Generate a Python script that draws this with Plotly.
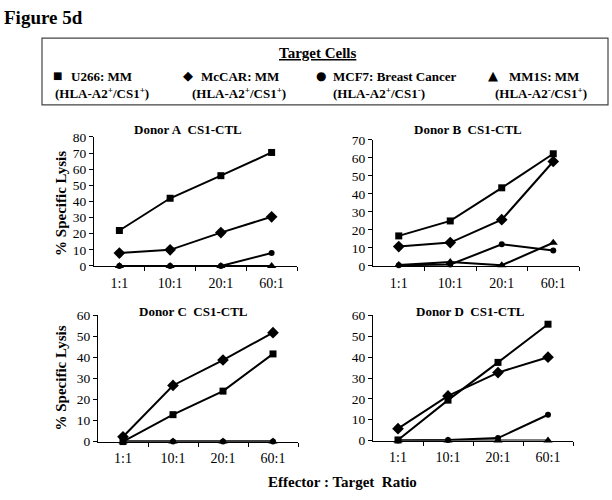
import plotly.graph_objects as go

categories = ["1:1", "10:1", "20:1", "60:1"]

# Donor A
a_u266 = [22, 42, 56, 70.4]
a_mccar = [8, 10, 20.7, 30.5]
a_mcf7 = [0, 0, 0, 8]
a_mm1s = [0, 0, 0, 0]
# Donor B
b_u266 = [16.7, 25, 43.4, 62.3]
b_mccar = [10.8, 13, 25.7, 58]
b_mcf7 = [0.4, 0.8, 12, 8.6]
b_mm1s = [0.5, 2.2, 0.4, 12.9]
# Donor C
c_u266 = [0, 12.8, 24, 41.7]
c_mccar = [2.3, 26.7, 38.8, 51.8]
c_mcf7 = [0, 0, 0, 0]
c_mm1s = [0, 0, 0, 0]
# Donor D
d_u266 = [0.3, 19.4, 37.5, 55.8]
d_mccar = [5.7, 21.4, 32.6, 40]
d_mcf7 = [0, 0.3, 1.2, 12.4]
d_mm1s = [0, 0, 0, 0]

y_max = {"A": 80, "B": 70, "C": 60, "D": 60}
panel_titles = {"A": "Donor A\u00a0\u00a0CS1-CTL", "B": "Donor B\u00a0\u00a0CS1-CTL",
                "C": "Donor C\u00a0\u00a0CS1-CTL", "D": "Donor D\u00a0\u00a0CS1-CTL"}

panels = {
    "A": [a_u266, a_mccar, a_mcf7, a_mm1s],
    "B": [b_u266, b_mccar, b_mcf7, b_mm1s],
    "C": [c_u266, c_mccar, c_mcf7, c_mm1s],
    "D": [d_u266, d_mccar, d_mcf7, d_mm1s],
}

W, H = 612, 500
FONT = "Liberation Serif"

# plot areas in pixels: x0, x1, ytop, ybottom
areas = {
    "A": (94, 297, 134, 267),
    "B": (373, 579, 137, 267),
    "C": (98, 298, 318, 448),
    "D": (373, 573, 318, 447),
}
title_pos = {"A": (188, 126), "B": (468, 126), "C": (193, 314), "D": (470, 314)}

symbols = ["square", "diamond", "circle", "triangle-up"]
sizes = [7, 9, 6, 8]

fig = go.Figure()
xs = list(range(len(categories)))

for i, key in enumerate(["A", "B", "C", "D"]):
    axn = "" if i == 0 else str(i + 1)
    for series, sym, sz in zip(panels[key], symbols, sizes):
        fig.add_trace(go.Scatter(
            x=xs, y=series, mode="lines+markers",
            xaxis="x" + axn, yaxis="y" + axn,
            line=dict(color="black", width=2),
            marker=dict(symbol=sym, size=sz, color="black"),
            cliponaxis=False, showlegend=False, hoverinfo="skip"))
    x0, x1, yt, yb = areas[key]
    xa = dict(domain=[x0 / W, x1 / W], range=[-0.5, 3.5],
              anchor="y" + axn, showgrid=False, zeroline=False,
              showline=True, linecolor="black", linewidth=1,
              tickmode="array", tickvals=xs, ticktext=categories,
              ticks="", ticklabelstandoff=4,
              tickfont=dict(family=FONT, size=14, color="black"),
              minor=dict(tickmode="array", tickvals=[0.5, 1.5, 2.5, 3.5],
                         ticks="outside", ticklen=4, tickcolor="black"))
    ya = dict(domain=[1 - yb / H, 1 - yt / H], range=[0, y_max[key]],
              anchor="x" + axn, showgrid=False, zeroline=False,
              showline=True, linecolor="black", linewidth=1,
              tickmode="linear", tick0=0, dtick=10,
              ticks="outside", ticklen=4, tickcolor="black",
              tickfont=dict(family=FONT, size=13.5, color="black"))
    fig.layout["xaxis" + axn] = xa
    fig.layout["yaxis" + axn] = ya
    tx, ty = title_pos[key]
    fig.add_annotation(text="<b>" + panel_titles[key] + "</b>",
                       x=tx / W, y=1 - ty / H,
                       xref="paper", yref="paper", showarrow=False,
                       font=dict(family=FONT, size=13, color="black"),
                       xanchor="center", yanchor="middle")

# Figure label
fig.add_annotation(text="<b>Figure 5d</b>", x=2 / W, y=1 - 11 / H,
                   xref="paper", yref="paper", showarrow=False,
                   xanchor="left", yanchor="middle",
                   font=dict(family=FONT, size=19, color="black"))

# legend box
fig.add_shape(type="rect", xref="paper", yref="paper",
              x0=42 / W, x1=608 / W, y0=1 - 101 / H, y1=1 - 32 / H,
              line=dict(color="#444444", width=1.2))
fig.add_annotation(text="<b><u>Target Cells</u></b>", x=318 / W, y=1 - 47 / H,
                   xref="paper", yref="paper", showarrow=False,
                   xanchor="center", yanchor="middle",
                   font=dict(family=FONT, size=15, color="black"))

legend_glyphs = ["\u25a0", "\u25c6", "\u25cf", "\u25b2"]
glyph_sizes = [10, 13, 12, 13]
glyph_x = [57, 188, 321, 493]
legend_names = ["U266: MM", "McCAR: MM", "MCF7: Breast Cancer", "MM1S: MM"]
legend_sub = ["(HLA-A2<sup>+</sup>/CS1<sup>+</sup>)", "(HLA-A2<sup>+</sup>/CS1<sup>+</sup>)",
              "(HLA-A2<sup>+</sup>/CS1<sup>-</sup>)", "(HLA-A2<sup>-</sup>/CS1<sup>+</sup>)"]
name_x = [69, 199, 331, 507]
sub_x = [53, 190, 331, 493]
for g, gs, gx, nm, nx, sb, sx in zip(legend_glyphs, glyph_sizes, glyph_x,
                                      legend_names, name_x, legend_sub, sub_x):
    fig.add_annotation(text=g, x=gx / W, y=1 - 71 / H, xref="paper", yref="paper",
                       showarrow=False, xanchor="center", yanchor="middle",
                       font=dict(family="DejaVu Sans", size=gs, color="black"))
    fig.add_annotation(text="<b>" + nm + "</b>", x=nx / W, y=1 - 72 / H,
                       xref="paper", yref="paper", showarrow=False,
                       xanchor="left", yanchor="middle",
                       font=dict(family=FONT, size=13, color="black"))
    fig.add_annotation(text="<b>" + sb + "</b>", x=sx / W, y=1 - 89 / H,
                       xref="paper", yref="paper", showarrow=False,
                       xanchor="left", yanchor="middle",
                       font=dict(family=FONT, size=13, color="black"))

# axis titles
for yc in [203, 383]:
    fig.add_annotation(text="<b>% Specific Lysis</b>", x=61 / W, y=1 - yc / H,
                       xref="paper", yref="paper", showarrow=False,
                       textangle=-90, xanchor="center", yanchor="middle",
                       font=dict(family=FONT, size=15, color="black"))
fig.add_annotation(text="<b>Effector : Target\u00a0\u00a0Ratio</b>", x=342 / W, y=1 - 490 / H,
                   xref="paper", yref="paper", showarrow=False,
                   xanchor="center", yanchor="middle",
                   font=dict(family=FONT, size=15, color="black"))

fig.update_layout(width=W, height=H, margin=dict(l=0, r=0, t=0, b=0),
                  paper_bgcolor="white", plot_bgcolor="white")

fig.write_html("out.html", config={"displayModeBar": False},
               post_script="document.body.style.margin='0px';document.body.style.overflow='hidden';")
